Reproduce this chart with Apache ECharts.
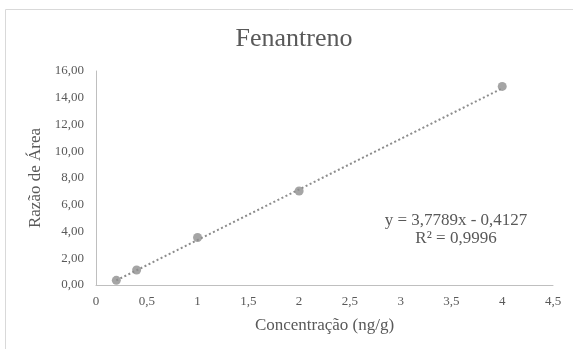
<!DOCTYPE html>
<html>
<head>
<meta charset="utf-8">
<script src="https://cdn.jsdelivr.net/npm/echarts@6/dist/echarts.min.js"></script>
<style>
  html, body { margin: 0; padding: 0; background: #fff; }
  #chart { width: 573px; height: 349px; }
</style>
</head>
<body>
<div id="chart"></div>
<script>
// pontos da curva de calibração
var concentracao = [0.2, 0.4, 1, 2, 4]
var razaoArea = [0.35, 1.12, 3.55, 7.03, 14.85]
// linha de tendência (Excel)
var slope = 3.7789
var intercept = -0.4127
var trendX = [0.2, 4]
var eqText = 'y = 3,7789x - 0,4127'
var r2Text = 'R² = 0,9996'

var pontos = concentracao.map(function (x, i) { return [x, razaoArea[i]] })
var tendencia = trendX.map(function (x) { return [x, slope * x + intercept] })

function virgula(v, d) {
    return v.toFixed(d).replace('.', ',')
}

var fonte = '"Liberation Serif", "DejaVu Serif", serif'
var cinza = '#595959'

var option = {
    animation: false,
    textStyle: { fontFamily: fonte },
    title: {
        text: 'Fenantreno',
        left: 289,
        textAlign: 'center',
        top: 21,
        textStyle: { fontFamily: fonte, fontSize: 26, fontWeight: 'normal', color: cinza }
    },
    grid: { left: 96, right: 20, top: 71, bottom: 64 },
    xAxis: {
        type: 'value',
        min: 0,
        max: 4.5,
        interval: 0.5,
        name: 'Concentração (ng/g)',
        nameLocation: 'middle',
        nameGap: 32,
        nameTextStyle: { fontFamily: fonte, fontSize: 17, color: cinza },
        axisLine: { lineStyle: { color: '#bfbfbf' } },
        axisTick: { show: false },
        splitLine: { show: false },
        axisLabel: {
            fontFamily: fonte, fontSize: 13, color: cinza, margin: 10,
            formatter: function (v) { return String(v).replace('.', ',') }
        }
    },
    yAxis: {
        type: 'value',
        min: 0,
        max: 16,
        interval: 2,
        name: 'Razão de Área',
        nameLocation: 'middle',
        nameGap: 51,
        nameTextStyle: { fontFamily: fonte, fontSize: 17, color: cinza },
        axisLine: { show: true, lineStyle: { color: '#bfbfbf' } },
        axisTick: { show: false },
        splitLine: { show: false },
        axisLabel: {
            fontFamily: fonte, fontSize: 13, color: cinza, margin: 12,
            formatter: function (v) { return virgula(v, 2) }
        }
    },
    series: [
        {
            name: 'tendencia',
            type: 'line',
            data: tendencia,
            symbol: 'none',
            lineStyle: { color: '#8c8c8c', width: 2, type: [2, 2.5] },
            z: 1
        },
        {
            name: 'pontos',
            type: 'scatter',
            data: pontos,
            symbolSize: 9,
            itemStyle: { color: '#8f8f8f' },
            z: 2
        }
    ],
    graphic: [
        {
            type: 'rect',
            shape: { x: 5.5, y: 9.5, width: 600, height: 400 },
            style: { fill: 'none', stroke: '#d9d9d9', lineWidth: 1 },
            silent: true
        },
        {
            type: 'text',
            x: 456, y: 221,
            style: { text: eqText, font: '17px ' + fonte, fill: cinza, align: 'center', verticalAlign: 'middle' }
        },
        {
            type: 'text',
            x: 456, y: 239,
            style: { text: r2Text, font: '17px ' + fonte, fill: cinza, align: 'center', verticalAlign: 'middle' }
        }
    ]
}

var myChart = echarts.init(document.getElementById('chart'))
myChart.setOption(option)
</script>
</body>
</html>
